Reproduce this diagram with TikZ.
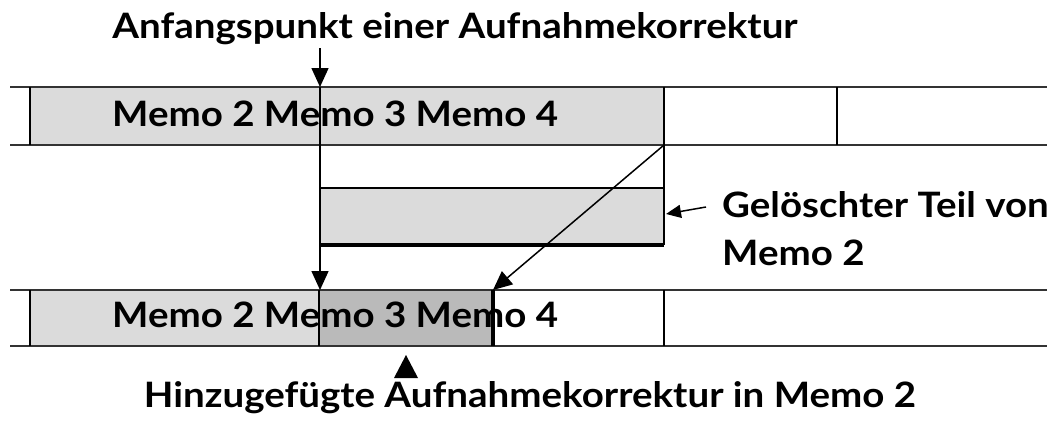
\documentclass[tikz,border=0pt]{standalone}
\usepackage{fontspec}
\setmainfont[FakeStretch=1.1]{Lato}
\usetikzlibrary{arrows.meta}

\begin{document}
\begin{tikzpicture}[x=1pt, y=-1pt,
    every node/.style={font=\bfseries\fontsize{35}{48}\selectfont, inner sep=0pt},
    track/.style={line width=2.5pt, draw=black!80},
    divider/.style={line width=2pt},
    pointer/.style={-{Triangle[length=19pt, width=17pt]}, line width=1.5pt}]
    \useasboundingbox (0,0) rectangle (1054,423);

    % filled parts
    \fill[black!14] (30,87) rectangle (664,145);
    \fill[black!14] (319,188) rectangle (664,245);
    \fill[black!14] (30,290) rectangle (319,346);
    \fill[black!27] (319,290) rectangle (493,346);

    % tracks
    \draw[track] (10,87) -- (1047,87) (10,145) -- (1047,145);
    \draw[track] (10,290) -- (1047,290) (10,346) -- (1047,346);
    \draw[divider] (30,87) -- (30,145) (837,87) -- (837,145);
    \draw[divider] (664,87) -- (664,245);
    \draw[divider] (319,188) -- (664,188);
    \draw[line width=4pt] (319,245) -- (664,245);
    \draw[divider] (30,290) -- (30,346) (319,290) -- (319,346) (664,290) -- (664,346);
    \draw[line width=3.5pt] (493,290) -- (493,346);

    % texts
    \node[anchor=base] (start) at (455,38) {Anfangspunkt einer Aufnahmekorrektur};
    \node[anchor=base west] (memotop) at (112,126) {Memo 2 Memo 3 Memo 4};
    \node[anchor=base west] (memobot) at (112,327) {Memo 2 Memo 3 Memo 4};
    \node[anchor=base west] (deleted) at (722,217) {Gelöschter Teil von};
    \node[anchor=base west] (deleted2) at (722,265) {Memo 2};
    \node[anchor=base] (added) at (530,407) {Hinzugefügte Aufnahmekorrektur in Memo 2};

    % arrows
    \coordinate (a) at (320,48);
    \coordinate (b) at (320,87);
    \coordinate (c) at (320,290);
    \coordinate (d) at (664,145);
    \coordinate (e) at (493,290);
    \coordinate (f) at (706,207);
    \coordinate (g) at (666,214);
    \draw[pointer] (a) -- (b);
    \draw[pointer] (b) -- (c);
    \draw[pointer] (d) -- (e);
    \draw[-{Triangle[length=15pt, width=13pt]}, line width=1.5pt] (f) -- (g);
    \fill (406,355) -- (418,378) -- (394,378) -- cycle;
\end{tikzpicture}
\end{document}
